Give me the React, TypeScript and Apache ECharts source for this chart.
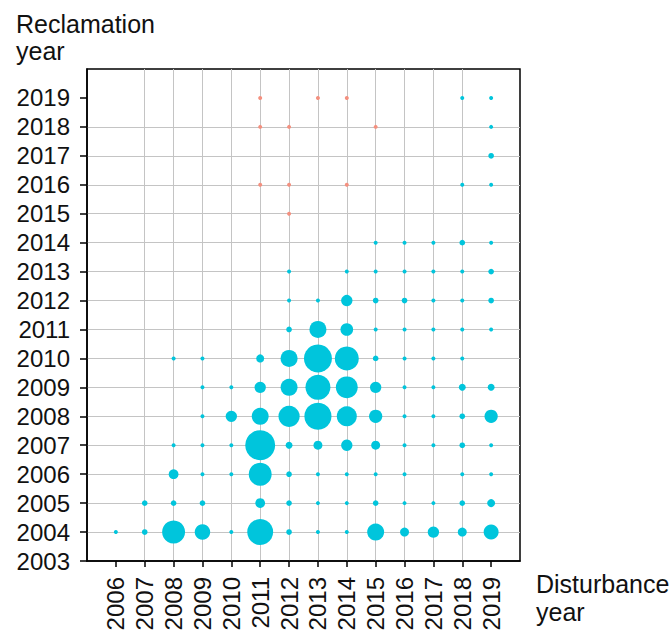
import React, { useEffect, useRef } from "react";
import * as echarts from "echarts";

// Disturbance years (x) and reclamation years (y) used as tick labels
const disturbanceYears = [2006, 2007, 2008, 2009, 2010, 2011, 2012, 2013, 2014, 2015, 2016, 2017, 2018, 2019];
const reclamationYears = [2003, 2004, 2005, 2006, 2007, 2008, 2009, 2010, 2011, 2012, 2013, 2014, 2015, 2016, 2017, 2018, 2019];

// Rows of the count matrix (reclamation year)
const rowYears = [2004, 2005, 2006, 2007, 2008, 2009, 2010, 2011, 2012, 2013, 2014, 2015, 2016, 2017, 2018, 2019];

// Counts per reclamation year (rows) × disturbance year (columns 2006–2019); null = nothing recorded
const cyanCounts: (number | null)[][] = [
  [1, 2, 33, 15, 1, 42, 2, 1, 1, 18, 5, 8, 5, 14], // 2004
  [null, 2, 2, 2, null, 6, 2, 1, 1, 2, 1, 1, 2, 4], // 2005
  [null, null, 6, 1, 1, 33, 2, 1, 1, 1, 1, null, 1, 1], // 2006
  [null, null, 1, 1, 1, 56, 3, 5, 8, 5, 1, 1, 2, 1], // 2007
  [null, null, null, 1, 8, 18, 28, 46, 25, 11, 1, 1, 2, 11], // 2008
  [null, null, null, 1, 1, 8, 18, 39, 30, 8, 1, 1, 3, 3], // 2009
  [null, null, 1, 1, null, 4, 18, 49, 36, 2, 1, 1, 1, null], // 2010
  [null, null, null, null, null, null, 2, 18, 10, 1, 1, 1, 1, 1], // 2011
  [null, null, null, null, null, null, 1, 1, 8, 2, 2, 1, 1, 2], // 2012
  [null, null, null, null, null, null, 1, null, 1, 1, 1, 1, 1, 2], // 2013
  [null, null, null, null, null, null, null, null, null, 1, 1, 1, 2, 1], // 2014
  [null, null, null, null, null, null, null, null, null, null, null, null, null, null], // 2015
  [null, null, null, null, null, null, null, null, null, null, null, null, 1, 1], // 2016
  [null, null, null, null, null, null, null, null, null, null, null, null, null, 2], // 2017
  [null, null, null, null, null, null, null, null, null, null, null, null, null, 1], // 2018
  [null, null, null, null, null, null, null, null, null, null, null, null, 1, 1], // 2019
];

// Second group of records (drawn in salmon)
const redDisturbance = [2011, 2013, 2014, 2011, 2012, 2015, 2011, 2012, 2014, 2012];
const redReclamation = [2019, 2019, 2019, 2018, 2018, 2018, 2016, 2016, 2016, 2015];
const redCounts = [1, 1, 1, 1, 1, 1, 1, 1, 1, 1];

const FONT = "'Liberation Sans', Arial, sans-serif";
const CYAN = "#00c5dc";
const SALMON = "#f4907f";

export default function App() {
  const ref = useRef<HTMLDivElement>(null);

  useEffect(() => {
    if (!ref.current) return;
    const chart = echarts.init(ref.current, undefined, { renderer: "svg" });

    const cyanData: number[][] = [];
    cyanCounts.forEach((row, r) => {
      row.forEach((n, c) => {
        if (n != null) cyanData.push([disturbanceYears[c], rowYears[r], n]);
      });
    });
    const redData = redDisturbance.map((x, i) => [x, redReclamation[i], redCounts[i]]);

    const sizeOf = (d: number[]) => 4 * Math.sqrt(d[2]);
    const labelStyle = { fontFamily: FONT, fontSize: 24, color: "#111" };
    const titleFont = `25px ${FONT}`;

    chart.setOption({
      animation: false,
      backgroundColor: "#fff",
      grid: {
        left: 87,
        right: 150,
        top: 69,
        bottom: 73,
        show: true,
        borderColor: "#000",
        borderWidth: 1.5,
        backgroundColor: "transparent",
      },
      xAxis: {
        type: "value",
        min: 2005,
        max: 2020,
        interval: 1,
        axisLine: { show: true, lineStyle: { color: "#000", width: 1.5 } },
        axisTick: {
          show: true,
          length: 6,
          lineStyle: { color: "#000", width: 1.5 },
          customValues: disturbanceYears,
        },
        axisLabel: {
          ...labelStyle,
          rotate: 90,
          margin: 16,
          customValues: disturbanceYears,
          formatter: (v: number) => String(v),
        },
        splitLine: {
          show: true,
          showMinLine: false,
          showMaxLine: false,
          lineStyle: { color: "#c4c4c4", width: 1 },
        },
      },
      yAxis: {
        type: "value",
        min: 2003,
        max: 2020,
        interval: 1,
        axisLine: { show: true, lineStyle: { color: "#000", width: 1.5 } },
        axisTick: {
          show: true,
          length: 7,
          lineStyle: { color: "#000", width: 1.5 },
          customValues: reclamationYears,
        },
        axisLabel: {
          ...labelStyle,
          margin: 17,
          customValues: reclamationYears,
          formatter: (v: number) => String(v),
        },
        splitLine: {
          show: true,
          showMinLine: false,
          showMaxLine: false,
          lineStyle: { color: "#c4c4c4", width: 1 },
        },
      },
      graphic: [
        { type: "text", left: 16, top: 11, style: { text: "Reclamation", font: titleFont, fill: "#111" } },
        { type: "text", left: 16, top: 38, style: { text: "year", font: titleFont, fill: "#111" } },
        { type: "text", left: 536, top: 571, style: { text: "Disturbance", font: titleFont, fill: "#111" } },
        { type: "text", left: 536, top: 599, style: { text: "year", font: titleFont, fill: "#111" } },
      ],
      series: [
        {
          type: "scatter",
          data: cyanData,
          symbolSize: sizeOf,
          itemStyle: { color: CYAN, opacity: 1 },
          emphasis: { disabled: true },
          silent: true,
          z: 3,
        },
        {
          type: "scatter",
          data: redData,
          symbolSize: sizeOf,
          itemStyle: { color: SALMON, opacity: 1 },
          emphasis: { disabled: true },
          silent: true,
          z: 3,
        },
      ],
    });

    return () => chart.dispose();
  }, []);

  return (
    <div
      ref={ref}
      style={{ position: "fixed", left: 0, top: 0, width: 670, height: 634, background: "#fff" }}
    />
  );
}
